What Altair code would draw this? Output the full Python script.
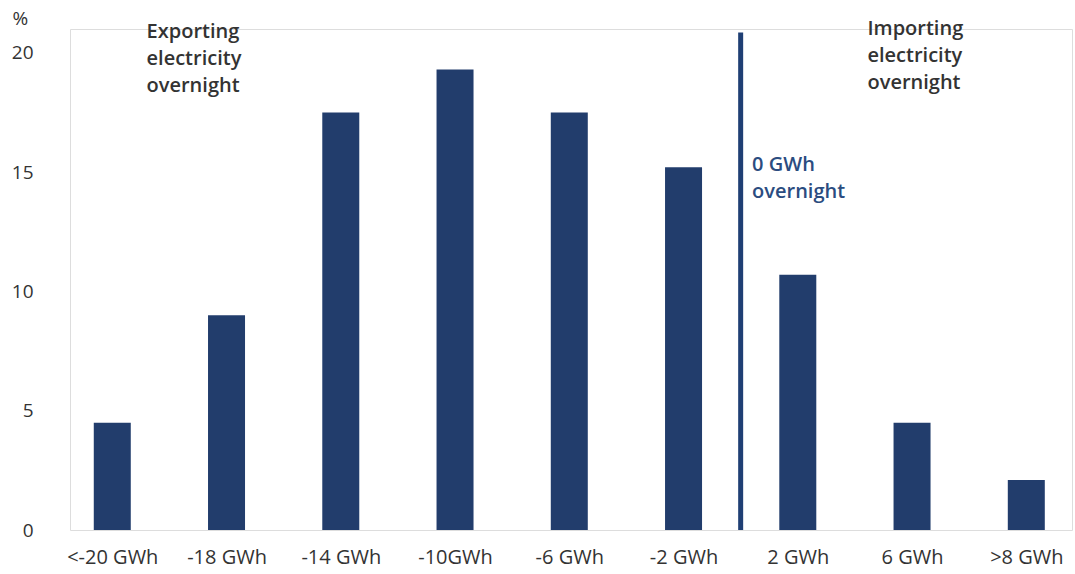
import altair as alt
import pandas as pd

categories = ["<-20 GWh", "-18 GWh", "-14 GWh", "-10GWh", "-6 GWh", "-2 GWh", "2 GWh", "6 GWh", ">8 GWh"]
shares = [4.5, 9.0, 17.5, 19.3, 17.5, 15.2, 10.7, 4.5, 2.1]

zero_line_pos = [5.5]        # between "-2 GWh" and "2 GWh"
zero_line_top = [20.85]

notes_text = [["Exporting", "electricity", "overnight"],
              ["Importing", "electricity", "overnight"],
              ["0 GWh", "overnight"]]
notes_x = [0.30, 6.61, 5.60]
notes_y = [21.3, 21.44, 15.7]
notes_kind = ["dark", "dark", "blue"]

BAR = "#223D6C"
TXT = "#333333"
FONT = "Open Sans"

bars_df = pd.DataFrame({"idx": list(range(len(categories))), "cat": categories, "share": shares})
line_df = pd.DataFrame({"x": zero_line_pos, "y0": [0], "y1": zero_line_top})
notes_df = pd.DataFrame({"x": notes_x, "y": notes_y, "text": notes_text, "kind": notes_kind})

label_expr = "[" + ",".join("'" + c + "'" for c in categories) + "][datum.value]"

xscale = alt.Scale(domain=[-0.37, 8.4], nice=False, zero=False, padding=0)
yscale = alt.Scale(domain=[0, 21], nice=False, padding=0)

bars = alt.Chart(bars_df).mark_bar(color=BAR, size=37).encode(
    x=alt.X("idx:Q", scale=xscale,
            axis=alt.Axis(values=list(range(len(categories))), labelExpr=label_expr,
                          title=None, domain=False, ticks=False, grid=False,
                          labelFontSize=20, labelColor=TXT, labelFont=FONT,
                          labelPadding=17, labelFlush=False)),
    y=alt.Y("share:Q", scale=yscale,
            axis=alt.Axis(values=[0, 5, 10, 15, 20], title="%", titleAngle=0,
                          titleAlign="left", titleBaseline="middle", titleX=-58, titleY=-11,
                          titleFontSize=19, titleFontWeight="normal", titleColor=TXT, titleFont=FONT,
                          domain=False, ticks=False, grid=False,
                          labelFontSize=19, labelColor=TXT, labelFont=FONT, labelPadding=37)),
)

rule = alt.Chart(line_df).mark_rule(color="#1F3F74", strokeWidth=5).encode(
    x=alt.X("x:Q", scale=xscale),
    y=alt.Y("y0:Q", scale=yscale),
    y2="y1:Q",
)

notes = alt.Chart(notes_df).mark_text(
    align="left", baseline="top", fontSize=20, fontWeight=600, font=FONT, lineHeight=27
).encode(
    x=alt.X("x:Q", scale=xscale),
    y=alt.Y("y:Q", scale=yscale),
    text="text",
    color=alt.Color("kind:N", scale=alt.Scale(domain=["dark", "blue"], range=[TXT, "#2B4C80"]), legend=None),
)

chart = alt.layer(bars, rule, notes).properties(
    width=1002, height=501,
    autosize=alt.AutoSizeParams(type="none"),
    padding={"left": 70, "top": 29, "right": 3, "bottom": 44},
).configure_view(stroke=None).configure(background="white")

chart.save("out.html", embed_options={"renderer": "svg", "actions": False})
